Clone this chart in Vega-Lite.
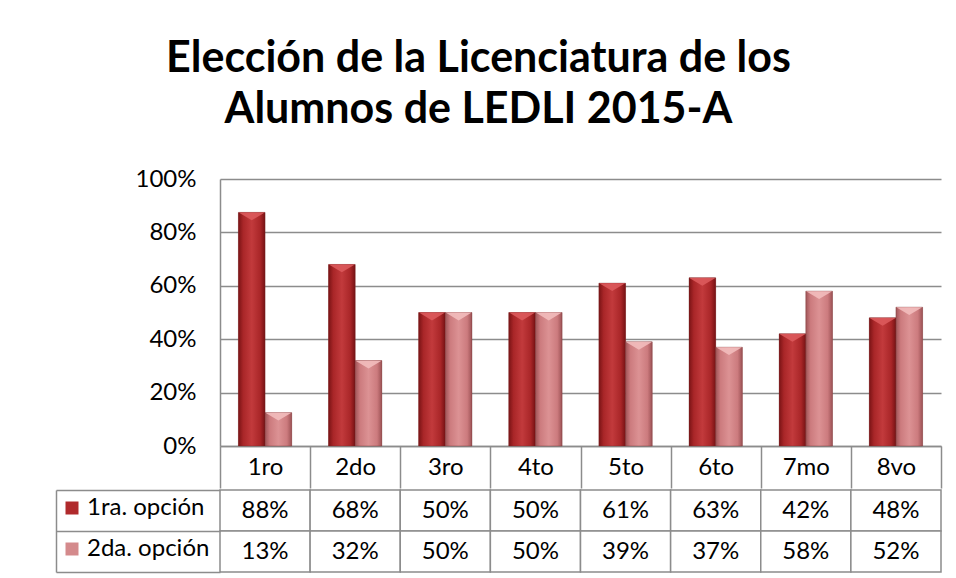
{
  "$schema": "https://vega.github.io/schema/vega-lite/v6.json",
  "background": "white",
  "padding": {"left": 55, "top": 38, "right": 5, "bottom": 5},
  "title": {
    "text": ["Elección de la Licenciatura de los", "Alumnos de LEDLI 2015-A"],
    "font": "Lato",
    "fontSize": 43,
    "fontWeight": "bold",
    "color": "black",
    "lineHeight": 51,
    "anchor": "middle",
    "dx": -20,
    "offset": 35
  },
  "data": {
    "values": [
      {"curso": "1ro", "serie": "1ra. opción", "valor": 0.875},
      {"curso": "2do", "serie": "1ra. opción", "valor": 0.68},
      {"curso": "3ro", "serie": "1ra. opción", "valor": 0.50},
      {"curso": "4to", "serie": "1ra. opción", "valor": 0.50},
      {"curso": "5to", "serie": "1ra. opción", "valor": 0.61},
      {"curso": "6to", "serie": "1ra. opción", "valor": 0.63},
      {"curso": "7mo", "serie": "1ra. opción", "valor": 0.42},
      {"curso": "8vo", "serie": "1ra. opción", "valor": 0.48},
      {"curso": "1ro", "serie": "2da. opción", "valor": 0.125},
      {"curso": "2do", "serie": "2da. opción", "valor": 0.32},
      {"curso": "3ro", "serie": "2da. opción", "valor": 0.50},
      {"curso": "4to", "serie": "2da. opción", "valor": 0.50},
      {"curso": "5to", "serie": "2da. opción", "valor": 0.39},
      {"curso": "6to", "serie": "2da. opción", "valor": 0.37},
      {"curso": "7mo", "serie": "2da. opción", "valor": 0.58},
      {"curso": "8vo", "serie": "2da. opción", "valor": 0.52}
    ]
  },
  "spacing": 0,
  "resolve": {"scale": {"x": "independent", "y": "independent"}},
  "config": {
    "view": {"stroke": null},
    "font": "Lato",
    "axis": {"labelFont": "Lato", "labelColor": "black"}
  },
  "vconcat": [
    {
      "width": 721,
      "height": 267,
      "encoding": {
        "x": {
          "field": "curso",
          "type": "nominal",
          "sort": ["1ro", "2do", "3ro", "4to", "5to", "6to", "7mo", "8vo"],
          "scale": {"paddingInner": 0, "paddingOuter": 0},
          "axis": {
            "title": null,
            "labelAngle": 0,
            "labelFontSize": 24,
            "tickBand": "extent",
            "tickSize": 42,
            "tickColor": "#8c8c8c",
            "tickWidth": 1.5,
            "domainColor": "#8c8c8c",
            "domainWidth": 1.5,
            "labelBaseline": "middle",
            "labelPadding": -21
          }
        },
        "xOffset": {
          "field": "serie",
          "type": "nominal",
          "sort": ["1ra. opción", "2da. opción"],
          "scale": {"paddingInner": 0, "paddingOuter": 0.69}
        },
        "y": {
          "field": "valor",
          "type": "quantitative",
          "scale": {"domain": [0, 1], "nice": false},
          "axis": {
            "title": null,
            "values": [0, 0.2, 0.4, 0.6, 0.8, 1],
            "format": ".0%",
            "labelFontSize": 24,
            "labelPadding": 24,
            "ticks": false,
            "domain": true,
            "domainColor": "#8c8c8c",
            "domainWidth": 1.5,
            "grid": true,
            "gridColor": "#8c8c8c",
            "gridWidth": 1.5
          }
        }
      },
      "layer": [
        {
          "mark": {"type": "bar"},
          "encoding": {
            "color": {
              "field": "serie",
              "type": "nominal",
              "sort": ["1ra. opción", "2da. opción"],
              "scale": {"domain": ["1ra. opción", "2da. opción"], "range": ["#b02a2c", "#d48a8c"]},
              "legend": {
                "title": null,
                "orient": "none",
                "legendX": -160,
                "legendY": 317,
                "labelFontSize": 24,
                "labelFont": "Lato",
                "labelColor": "black",
                "symbolType": "square",
                "symbolSize": 169,
                "symbolStrokeWidth": 0,
                "rowPadding": 17,
                "labelOffset": 3
              }
            }
          }
        },
        {
          "mark": {"type": "bar", "stroke": "#6e2a2c", "strokeOpacity": 0.35, "strokeWidth": 1},
          "encoding": {
            "fill": {
              "condition": {
                "test": "datum.serie == '1ra. opción'",
                "value": {
                  "gradient": "linear", "x1": 0, "x2": 1, "y1": 0, "y2": 0,
                  "stops": [
                    {"offset": 0, "color": "#7a1315"},
                    {"offset": 0.18, "color": "#a92628"},
                    {"offset": 0.5, "color": "#c23a3c"},
                    {"offset": 0.82, "color": "#a92628"},
                    {"offset": 1, "color": "#761214"}
                  ]
                }
              },
              "value": {
                "gradient": "linear", "x1": 0, "x2": 1, "y1": 0, "y2": 0,
                "stops": [
                  {"offset": 0, "color": "#a05558"},
                  {"offset": 0.18, "color": "#cc7b7e"},
                  {"offset": 0.5, "color": "#dc9294"},
                  {"offset": 0.82, "color": "#cc7b7e"},
                  {"offset": 1, "color": "#9c5255"}
                ]
              }
            }
          }
        },
        {
          "mark": {
            "type": "point",
            "shape": "M-1,-0.3L1,-0.3L0,0.3Z",
            "size": 676,
            "filled": true,
            "strokeWidth": 0,
            "yOffset": 4,
            "opacity": 0.9
          },
          "encoding": {
            "fill": {
              "condition": {"test": "datum.serie == '1ra. opción'", "value": "#dc5a5c"},
              "value": "#f2bcbd"
            }
          }
        }
      ]
    },
    {
      "width": 721,
      "height": 82,
      "encoding": {
        "x": {
          "field": "curso",
          "type": "nominal",
          "sort": ["1ro", "2do", "3ro", "4to", "5to", "6to", "7mo", "8vo"],
          "scale": {"paddingInner": 0, "paddingOuter": 0},
          "axis": null
        },
        "y": {
          "field": "serie",
          "type": "nominal",
          "sort": ["1ra. opción", "2da. opción"],
          "scale": {"paddingInner": 0, "paddingOuter": 0},
          "axis": {
            "title": null,
            "labels": false,
            "offset": 164,
            "domain": true,
            "domainColor": "#8c8c8c",
            "domainWidth": 1.5,
            "tickBand": "extent",
            "tickSize": -164,
            "tickColor": "#8c8c8c",
            "tickWidth": 1.5
          }
        }
      },
      "layer": [
        {
          "mark": {"type": "rect", "fill": "white", "stroke": "#8c8c8c", "strokeWidth": 1.5}
        },
        {
          "mark": {"type": "text", "fontSize": 24, "font": "Lato", "color": "black"},
          "encoding": {"text": {"field": "valor", "type": "quantitative", "format": ".0%"}}
        }
      ]
    }
  ]
}
